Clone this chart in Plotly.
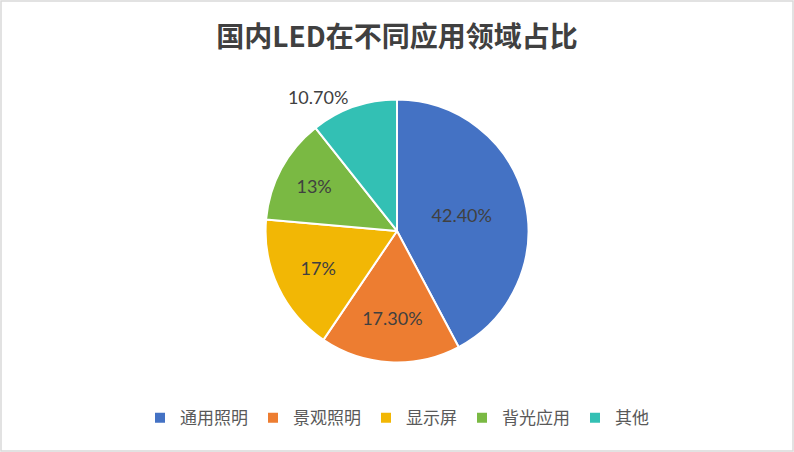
import plotly.graph_objects as go

categories = ["通用照明", "景观照明", "显示屏", "背光应用", "其他"]
values = [42.4, 17.3, 17, 13, 10.7]
text_labels = ["42.40%", "17.30%", "17%", "13%", "10.70%"]
colors = ["#4472C4", "#ED7D31", "#F2B705", "#7AB943", "#33C0B4"]
positions = ["inside", "inside", "inside", "inside", "outside"]

W, H = 794, 452
font_family = "Lato, 'Noto Sans CJK SC', sans-serif"

fig = go.Figure(go.Pie(
    labels=categories,
    values=values,
    text=text_labels,
    texttemplate="%{text}",
    textinfo="text",
    textposition=positions,
    insidetextorientation="horizontal",
    sort=False,
    direction="clockwise",
    rotation=0,
    marker=dict(colors=colors, line=dict(color="white", width=2)),
    textfont=dict(size=18, color="#404040", family=font_family),
    outsidetextfont=dict(size=18, color="#404040", family=font_family),
    insidetextfont=dict(size=18, color="#404040", family=font_family),
    domain=dict(x=[265 / W, 529 / W], y=[(H - 363) / H, (H - 99) / H]),
    automargin=False,
    hoverinfo="label+percent",
))

fig.update_layout(
    width=W, height=H,
    margin=dict(l=1, r=1, t=1, b=1),
    paper_bgcolor="white",
    plot_bgcolor="white",
    title=dict(
        text="国内LED在不同应用领域占比",
        x=0.5, xanchor="center",
        y=1 - 37 / H, yanchor="middle", yref="container",
        font=dict(size=28, color="#404040", family="'Noto Sans CJK SC', sans-serif", weight="bold"),
    ),
    legend=dict(
        orientation="h",
        x=0.5, xanchor="center",
        y=(H - 419) / H, yanchor="middle",
        font=dict(size=17, color="#595959", family="'Noto Sans CJK SC', sans-serif"),
        itemwidth=30,
        traceorder="normal",
    ),
    showlegend=True,
    shapes=[dict(type="rect", xref="paper", yref="paper", x0=0, y0=0, x1=1, y1=1,
                 line=dict(color="#D9D9D9", width=1.5))],
)

fig.write_html("out.html", config={"displayModeBar": False},
               post_script="document.body.style.margin='0';document.body.style.overflow='hidden';")
